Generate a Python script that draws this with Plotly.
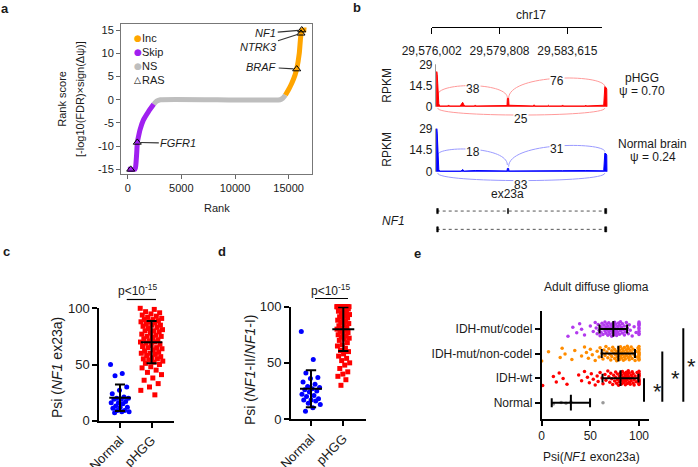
import plotly.graph_objects as go

W, H = 698, 467
FONT = "Liberation Sans, Arial, Helvetica, sans-serif"
INK = "#1a1a1a"


def X(px):
    return px / W


def Y(py):
    return 1 - py / H


# ---------------- panel a : rank plot ----------------
skip_rank = [0, 680, 760, 836, 900, 1000, 1146, 1457, 1923, 2420]
skip_score = [-15, -15, -14, -11.6, -9.2, -8.0, -6.5, -4.4, -2.6, -1.0]
ns_rank = [2420, 2700, 3050, 14200, 14450, 14700]
ns_score = [-1.0, -0.3, 0, 0, 0.3, 1.0]
inc_rank = [14700, 14970, 15280, 15590, 15750, 15990, 16090, 16180, 16250, 16650]
inc_score = [1.0, 2.1, 3.5, 5.3, 6.6, 10.0, 12.8, 14.6, 15.0, 15.0]
ras_rank = [280, 895, 15750, 16150, 16216]
ras_score = [-15, -9.2, 6.6, 14.3, 15.0]
ras_gene = ["", "FGFR1", "BRAF", "NTRK3", "NF1"]
a_xticks = [0, 5000, 10000, 15000]
a_yticks = [-15, -10, -5, 0, 5, 10, 15]

# ---------------- panel b : sashimi ----------------
ruler_ticks = [29576002, 29579808, 29583615]
ruler_labels = ["29,576,002", "29,579,808", "29,583,615"]
rpkm_ticks = [0, 14.5, 29]

hgg_pos = [29576280, 29576285, 29576310, 29576340, 29576370, 29576400, 29576450,
           29576900, 29576950, 29577000, 29577600, 29577680, 29577740, 29577800,
           29577860, 29578400, 29578450, 29578500, 29579200, 29579250, 29579300,
           29580230, 29580250, 29580320, 29580340, 29581700, 29581750, 29581800,
           29582500, 29582550, 29582600, 29583300, 29583350, 29583400, 29584600,
           29584650, 29584700, 29585660, 29585720, 29585800, 29585830, 29585840]
hgg_cov = [0, 24, 22, 16, 6, 2, 0.5,
           0.5, 1.2, 0.5, 0.5, 2.5, 3, 1.5,
           0.5, 0.5, 1.2, 0.5, 0.5, 1.0, 0.5,
           0.8, 5.7, 5.7, 1.0, 0.5, 1.3, 0.5,
           0.5, 1.0, 0.5, 0.5, 1.2, 0.5, 0.5,
           1.1, 0.5, 1.0, 13.7, 13.0, 12.0, 0]
nb_pos = [29576280, 29576285, 29576310, 29576340, 29576370, 29576400, 29576450,
          29577650, 29577740, 29577820, 29578450, 29579250,
          29580230, 29580250, 29580320, 29580340, 29581750, 29582550,
          29583350, 29584650, 29585660, 29585720, 29585800, 29585830, 29585840]
nb_cov = [0, 29, 26, 18, 6, 1.5, 0.4,
          0.4, 1.5, 0.4, 0.8, 0.6,
          0.5, 2.2, 2.2, 0.5, 0.8, 0.6,
          0.7, 0.8, 0.6, 12.5, 12.0, 11.0, 0]

hgg_j_start = [29576340, 29580320, 29576340]
hgg_j_end = [29580250, 29585720, 29585720]
hgg_j_count = ["38", "76", "25"]
hgg_j_y1 = [8, 5.7, -1]
hgg_j_y2 = [6, 13.7, -1]
hgg_j_peak = [14.4, 19.4, -5.7]

nb_j_start = [29576340, 29580320, 29576340]
nb_j_end = [29580250, 29585720, 29585720]
nb_j_count = ["18", "31", "83"]
nb_j_y1 = [11.3, 3.4, -1]
nb_j_y2 = [4.5, 13.5, -1]
nb_j_peak = [15.1, 17.3, -6.0]

tx_start = [29576283, 29576283]
tx_end = [29585826, 29585826]
tx_row = [1, 0]
exon_start = [29576283, 29580260, 29585714, 29576283, 29585714]
exon_end = [29576373, 29580310, 29585826, 29576373, 29585826]
exon_row = [1, 1, 1, 0, 0]

# ---------------- panel c ----------------
c_groups = ["Normal", "pHGG"]
c_normal = [50, 42, 40, 30, 27, 24, 21, 20, 20, 19, 19, 17, 16, 16, 15, 13, 12, 12,
            11, 9, 9, 8, 8, 7]
c_phgg = [100, 99, 97, 96, 95, 94, 93, 92, 91, 90, 90, 89, 88, 88, 87, 86, 85, 85,
          84, 83, 82, 81, 80, 80, 79, 78, 77, 76, 75, 75, 74, 73, 72, 71, 70, 70, 69,
          68, 67, 66, 65, 65, 64, 63, 62, 61, 60, 60, 59, 58, 57, 56, 55, 55, 54, 53,
          52, 51, 50, 48, 47, 45, 43, 41, 38, 36, 33, 30, 27, 23]
c_mean = [20.5, 69.9]
c_sd = [11.8, 18.8]

# ---------------- panel d ----------------
d_normal = [78, 53, 41, 37, 36, 33, 31, 29, 28, 27, 26, 25, 24, 22, 21, 20, 18, 17,
            17, 16, 14, 13, 10, 7]
d_phgg = [100, 100, 100, 100, 100, 100, 100, 100, 100, 100, 100, 100, 100, 100, 100,
          100, 98, 97, 96, 95, 94, 93, 92, 91, 90, 89, 88, 87, 86, 85, 84, 83, 82, 81,
          80, 79, 78, 77, 76, 75, 74, 73, 72, 71, 70, 68, 66, 65, 63, 61, 60, 58, 56,
          54, 52, 50, 48, 45, 42, 40, 38, 35, 30]
d_mean = [27.0, 80.0]
d_sd = [16.5, 19.4]

# ---------------- panel e ----------------
e_groups = ["Normal", "IDH-wt", "IDH-mut/non-codel", "IDH-mut/codel"]
e_normal = [12, 20, 25, 30, 63]
e_wt = [1, 12, 15, 18, 22, 26, 38, 41, 44, 47, 49, 51, 53, 55, 57, 58, 60, 62, 63, 65,
        66, 68, 69, 70, 71, 72, 73, 74, 75, 76, 76, 77, 78, 78, 79, 80, 80, 81, 81, 82,
        82, 83, 83, 84, 84, 85, 85, 86, 86, 86, 87, 87, 88, 88, 88, 89, 89, 90, 90, 91,
        91, 92, 92, 93, 93, 94, 94, 95, 95, 96, 97, 98, 99, 100, 100, 100, 100, 100, 100,
        100, 100, 100, 100, 100]
e_noncodel = [0, 7, 19, 21, 24, 31, 34, 41, 44, 46, 48, 50, 52, 55, 57, 59, 60, 62, 63,
              64, 65, 66, 67, 68, 69, 70, 71, 72, 72, 73, 74, 75, 75, 76, 77, 77, 78, 79,
              79, 80, 80, 81, 81, 82, 82, 83, 83, 84, 84, 85, 85, 86, 86, 87, 87, 88, 88,
              89, 89, 90, 90, 91, 91, 92, 93, 93, 94, 95, 96, 97, 98, 99, 100, 100, 100,
              100, 100, 100, 100, 100, 100, 100]
e_codel = [27, 32, 36, 39, 41, 44, 50, 53, 55, 56, 57, 58, 59, 60, 61, 61, 62, 63, 63,
           64, 65, 65, 66, 66, 67, 67, 68, 68, 69, 69, 70, 70, 71, 71, 72, 72, 73, 73, 73,
           74, 74, 75, 75, 75, 76, 76, 77, 77, 78, 78, 79, 79, 80, 80, 81, 81, 82, 83, 83,
           84, 85, 85, 86, 87, 88, 89, 90, 91, 93, 95, 97, 100, 100, 100, 100, 100, 100,
           100, 100, 100]
e_mean = [30.0, 81.0, 78.8, 73.6]
e_sd = [19.7, 18.5, 17.1, 14.2]

# colours
PURPLE = "#A020F0"
ORANGE = "#FFA500"
GRAY = "#BEBEBE"
RED = "#FF0000"
BLUE = "#0000FF"


def jit(n, half):
    return [(((i * 0.6180339887) % 1.0) - 0.5) * 2 * half for i in range(n)]


fig = go.Figure()

# ---- panel a traces
for rk, sc, col in [(ns_rank, ns_score, GRAY), (skip_rank, skip_score, PURPLE),
                    (inc_rank, inc_score, ORANGE)]:
    fig.add_trace(go.Scatter(x=rk, y=sc, mode="lines",
                             line=dict(color=col, width=5, shape="spline", smoothing=0.6),
                             xaxis="x", yaxis="y", showlegend=False, hoverinfo="skip"))
fig.add_trace(go.Scatter(x=ras_rank, y=ras_score, mode="markers",
                         marker=dict(symbol="triangle-up-open", size=7, color="black",
                                     line=dict(width=1)),
                         xaxis="x", yaxis="y", showlegend=False, cliponaxis=False))

# ---- panel b traces
fig.add_trace(go.Scatter(x=ruler_ticks, y=[0] * len(ruler_ticks), mode="none",
                         xaxis="x2", yaxis="y2", showlegend=False, hoverinfo="skip"))
fig.add_trace(go.Scatter(x=hgg_pos, y=hgg_cov, mode="lines", fill="tozeroy",
                         line=dict(color=RED, width=1), fillcolor=RED,
                         xaxis="x3", yaxis="y3", showlegend=False, cliponaxis=False))
fig.add_trace(go.Scatter(x=nb_pos, y=nb_cov, mode="lines", fill="tozeroy",
                         line=dict(color=BLUE, width=1), fillcolor=BLUE,
                         xaxis="x4", yaxis="y4", showlegend=False, cliponaxis=False))
for s, e, r in zip(tx_start, tx_end, tx_row):
    fig.add_trace(go.Scatter(x=[s, e], y=[r, r], mode="lines",
                             line=dict(color="#555", width=1, dash="dot"),
                             xaxis="x5", yaxis="y5", showlegend=False))

shapes = []
annotations = []

for s, e, r in zip(exon_start, exon_end, exon_row):
    shapes.append(dict(type="rect", xref="x5", yref="y5", x0=s, x1=e, y0=r - 0.14,
                       y1=r + 0.14, fillcolor="black", line=dict(width=0.6, color="black")))


def arcs(starts, ends, y1s, y2s, peaks, counts, xr, yr, col):
    for x1, x2, y1, y2, pk, ct in zip(starts, ends, y1s, y2s, peaks, counts):
        yc = (pk - 0.125 * (y1 + y2)) / 0.75
        shapes.append(dict(type="path", xref=xr, yref=yr, layer="below",
                           path=f"M {x1},{y1} C {x1},{yc} {x2},{yc} {x2},{y2}",
                           line=dict(color=col, width=1)))
        annotations.append(dict(xref=xr, yref=yr, x=(x1 + x2) / 2, y=pk, text=ct,
                                showarrow=False, bgcolor="white", borderpad=0,
                                yshift=-3 if pk > 0 else -4,
                                font=dict(size=12, color=INK, family=FONT)))


arcs(hgg_j_start, hgg_j_end, hgg_j_y1, hgg_j_y2, hgg_j_peak, hgg_j_count, "x3", "y3", "#FF9A9A")
arcs(nb_j_start, nb_j_end, nb_j_y1, nb_j_y2, nb_j_peak, nb_j_count, "x4", "y4", "#9A9AFF")

for yr in ["y3", "y4"]:
    shapes.append(dict(type="line", xref=yr.replace("y", "x") + " domain", yref=yr,
                       x0=0, x1=0, y0=0, y1=29, line=dict(color="#999", width=1)))


# ---- dot plots c, d
def dotplot(vals_list, means, sds, xa, ya, syms, cols, halves):
    for i, (vals, sym, col, half) in enumerate(zip(vals_list, syms, cols, halves)):
        offs = jit(len(vals), half)
        fig.add_trace(go.Scatter(x=[i + o for o in offs], y=vals, mode="markers",
                                 marker=dict(symbol=sym, size=5, color=col),
                                 xaxis=xa, yaxis=ya, showlegend=False, cliponaxis=False))
    ex, ey = [], []
    for i, (m, s) in enumerate(zip(means, sds)):
        ex += [i - 0.34, i + 0.34, None, i, i, None, i - 0.16, i + 0.16, None,
               i - 0.16, i + 0.16, None]
        ey += [m, m, None, m - s, m + s, None, m + s, m + s, None, m - s, m - s, None]
    fig.add_trace(go.Scatter(x=ex, y=ey, mode="lines", line=dict(color="black", width=2),
                             xaxis=xa, yaxis=ya, showlegend=False, cliponaxis=False))


dotplot([c_normal, c_phgg], c_mean, c_sd, "x6", "y6", ["circle", "square"], [BLUE, RED],
        [0.3, 0.36])
dotplot([d_normal, d_phgg], d_mean, d_sd, "x7", "y7", ["circle", "square"], [BLUE, RED],
        [0.3, 0.2])

# ---- panel e
e_cols = ["#999999", RED, "#FF8C00", "#B23AEE"]
for i, (vals, col) in enumerate(zip([e_normal, e_wt, e_noncodel, e_codel], e_cols)):
    offs = jit(len(vals), 0.3 if i else 0.05)
    fig.add_trace(go.Scatter(x=vals, y=[i + o for o in offs], mode="markers",
                             marker=dict(symbol="circle", size=3.5, color=col),
                             xaxis="x8", yaxis="y8", showlegend=False, cliponaxis=False))
ex, ey = [], []
for i, (m, s) in enumerate(zip(e_mean, e_sd)):
    ex += [m - s, m + s, None, m, m, None, m - s, m - s, None, m + s, m + s, None]
    ey += [i, i, None, i - 0.32, i + 0.32, None, i - 0.18, i + 0.18, None, i - 0.18, i + 0.18, None]
fig.add_trace(go.Scatter(x=ex, y=ey, mode="lines", line=dict(color="black", width=2),
                         xaxis="x8", yaxis="y8", showlegend=False, cliponaxis=False))

# significance brackets e
for px, top, spx, spy in [(644, 1.0, 664, 406), (662.3, 2.08, 681.5, 393),
                          (683.3, 3.03, 698, 381)]:
    shapes.append(dict(type="line", xref="paper", yref="y8", x0=X(px), x1=X(px), y0=0.04,
                       y1=top, line=dict(color="black", width=2)))
    annotations.append(dict(xref="paper", yref="paper", x=X(spx), y=Y(spy), text="*",
                            showarrow=False, xanchor="right",
                            font=dict(size=22, color=INK, family=FONT)))


def txt(px, py, text, size=12, angle=0, xanchor="center", bold=False):
    if bold:
        text = f"<b>{text}</b>"
    annotations.append(dict(xref="paper", yref="paper", x=X(px), y=Y(py), text=text,
                            showarrow=False, textangle=angle, xanchor=xanchor,
                            yanchor="middle",
                            font=dict(size=size, color=INK, family=FONT)))


# panel letters
txt(5, 8, "a", 13, bold=True)
txt(357, 7, "b", 13, bold=True)
txt(6, 252, "c", 13, bold=True)
txt(222, 252, "d", 13, bold=True)
txt(417, 253, "e", 13, bold=True)

# panel a texts
txt(61.7, 99, "Rank score", 11, angle=-90)
txt(80, 99, "[-log10(FDR)×sign(Δψ)]", 11, angle=-90)
txt(217.3, 208.3, "Rank", 11)
leg = [("●", ORANGE, "Inc", 38.3), ("●", PURPLE, "Skip", 52.3), ("●", GRAY, "NS", 66),
       ("△", "black", "RAS", 80)]
for sym, col, lab, py in leg:
    annotations.append(dict(xref="paper", yref="paper", x=X(132), y=Y(py), text=sym,
                            showarrow=False, yanchor="middle",
                            font=dict(size=9, color=col, family="DejaVu Sans")))
    txt(140, py, lab, 11, xanchor="left")
gene_off = {"FGFR1": (41, 1), "BRAF": (-35, -2), "NTRK3": (-43, 14), "NF1": (-36, 3)}
for rk, sc, g in zip(ras_rank, ras_score, ras_gene):
    if g:
        axo, ayo = gene_off[g]
        annotations.append(dict(xref="x", yref="y", x=rk, y=sc, text=f"<i>{g}</i>",
                                showarrow=True, arrowhead=0, arrowwidth=1.2,
                                arrowcolor="#333", ax=axo, ay=ayo, standoff=3,
                                font=dict(size=11, color=INK, family=FONT)))

# panel b texts
txt(531, 15, "chr17", 12)
txt(386.7, 85, "RPKM", 12, angle=-90)
txt(386.7, 149, "RPKM", 12, angle=-90)
txt(641.7, 77.7, "pHGG", 12)
txt(641.7, 90.7, "ψ = 0.70", 12)
txt(652.7, 144, "Normal brain", 12)
txt(652.7, 156.7, "ψ = 0.24", 12)
txt(507.7, 194, "ex23a", 12)
txt(393, 221, "<i>NF1</i>", 12)

# panel c / d texts
txt(57, 368, "Psi (<i>NF1</i> ex23a)", 14, angle=-90)
txt(250, 370, "Psi (<i>NF1</i>-II/<i>NF1</i>-I)", 14, angle=-90)
txt(137, 290, "p<10<sup>-15</sup>", 12)
txt(330, 290, "p<10<sup>-15</sup>", 12)
shapes.append(dict(type="line", xref="paper", yref="paper", x0=X(126.7), x1=X(156),
                   y0=Y(299.5), y1=Y(299.5), line=dict(color="black", width=1.2)))
shapes.append(dict(type="line", xref="paper", yref="paper", x0=X(315), x1=X(348),
                   y0=Y(298.5), y1=Y(298.5), line=dict(color="black", width=1.2)))

# panel e texts
txt(596.7, 287.3, "Adult diffuse glioma", 12)
txt(591.7, 456.7, "Psi(<i>NF1</i> exon23a)", 12)

base_axis = dict(showgrid=False, zeroline=False, automargin=False,
                 tickfont=dict(size=12, color=INK, family=FONT))


def ax(**kw):
    d = dict(base_axis)
    d.update(kw)
    return d


track_lo = 29576002 + (435.5 - 431.7) * 56.14
track_hi = 29576002 + (610 - 431.7) * 56.14

fig.update_layout(
    width=W, height=H, margin=dict(l=0, r=0, t=0, b=0, pad=0, autoexpand=False),
    paper_bgcolor="white", plot_bgcolor="rgba(0,0,0,0)",
    font=dict(family=FONT, color=INK),
    showlegend=False, hovermode=False,
    shapes=shapes, annotations=annotations,
    # a
    xaxis=ax(domain=[X(121), X(312)], range=[-624, 17175], anchor="y",
             tickvals=a_xticks, ticktext=[str(v) for v in a_xticks], ticks="outside",
             ticklen=4, tickcolor="#666", showline=True, mirror=True, linecolor="#777",
             linewidth=1, tickfont=dict(size=11, color=INK, family=FONT)),
    yaxis=ax(domain=[Y(174), Y(24)], range=[-16.0, 16.3], anchor="x",
             tickvals=a_yticks, ticktext=[str(v) for v in a_yticks], ticks="outside",
             ticklen=4, tickcolor="#666", showline=True, mirror=True, linecolor="#777",
             linewidth=1, tickfont=dict(size=11, color=INK, family=FONT)),
    # b ruler
    xaxis2=ax(domain=[X(431.7), X(601.7)], range=[29576002, 29576002 + 170 * 56.14],
              anchor="y2", side="bottom", tickvals=ruler_ticks, ticktext=ruler_labels,
              ticks="outside", ticklen=6, tickcolor="black", showline=True,
              linecolor="black", linewidth=1, visible=True, ticklabelstandoff=7),
    yaxis2=dict(domain=[Y(26.7), Y(18)], range=[-1, 1], anchor="x2", showline=False,
                showticklabels=False, ticks="", showgrid=False, zeroline=False),
    # b tracks
    xaxis3=dict(domain=[X(435.5), X(610)], range=[track_lo, track_hi], anchor="y3", visible=False),
    yaxis3=ax(domain=[Y(122.78), Y(62.84)], range=[-11, 30], anchor="x3",
              tickvals=rpkm_ticks, ticktext=["0", "14.5", "29"], ticks="", showline=False,
              ticklabelstandoff=2),
    xaxis4=dict(domain=[X(435.5), X(610)], range=[track_lo, track_hi], anchor="y4", visible=False),
    yaxis4=ax(domain=[Y(188.0), Y(127.2)], range=[-11, 30], anchor="x4",
              tickvals=rpkm_ticks, ticktext=["0", "14.5", "29"], ticks="", showline=False,
              ticklabelstandoff=2),
    xaxis5=dict(domain=[X(435.5), X(610)], range=[track_lo, track_hi], anchor="y5", visible=False),
    yaxis5=dict(domain=[Y(238.5), Y(201.9)], range=[-0.5, 1.5], anchor="x5", visible=False),
    # c
    xaxis6=ax(domain=[X(99.3), X(174)], range=[-0.656, 1.71], anchor="y6",
              tickvals=[0, 1], ticktext=c_groups, tickangle=-45, ticks="outside", ticklen=5,
              tickwidth=2, tickcolor="black", showline=True, linewidth=2, linecolor="black",
              tickfont=dict(size=13, color=INK, family=FONT)),
    yaxis6=ax(domain=[Y(420.7), Y(308.3)], range=[0, 100], anchor="x6",
              tickvals=[0, 50, 100], ticks="outside", ticklen=5, tickwidth=2,
              tickcolor="black", showline=True, linewidth=2, linecolor="black",
              tickfont=dict(size=13, color=INK, family=FONT)),
    # d
    xaxis7=ax(domain=[X(291), X(366)], range=[-0.619, 1.703], anchor="y7",
              tickvals=[0, 1], ticktext=c_groups, tickangle=-45, ticks="outside", ticklen=5,
              tickwidth=2, tickcolor="black", showline=True, linewidth=2, linecolor="black",
              tickfont=dict(size=13, color=INK, family=FONT)),
    yaxis7=ax(domain=[Y(419), Y(306.7)], range=[0, 100], anchor="x7",
              tickvals=[0, 50, 100], ticks="outside", ticklen=5, tickwidth=2,
              tickcolor="black", showline=True, linewidth=2, linecolor="black",
              tickfont=dict(size=13, color=INK, family=FONT)),
    # e
    xaxis8=ax(domain=[X(541.7), X(649.3)], range=[0, 110.6], anchor="y8",
              tickvals=[0, 50, 100], ticks="outside", ticklen=5, tickwidth=2,
              tickcolor="black", showline=True, linewidth=2, linecolor="black"),
    yaxis8=ax(domain=[Y(418.7), Y(311)], range=[-0.65, 3.73], anchor="x8",
              tickvals=[0, 1, 2, 3], ticktext=e_groups, ticks="outside", ticklen=5,
              tickwidth=2, tickcolor="black", showline=True, linewidth=2, linecolor="black"),
)

fig.write_html("out.html", config={"displayModeBar": False, "staticPlot": True},
               post_script="document.body.style.margin='0';document.body.style.overflow='hidden';")
